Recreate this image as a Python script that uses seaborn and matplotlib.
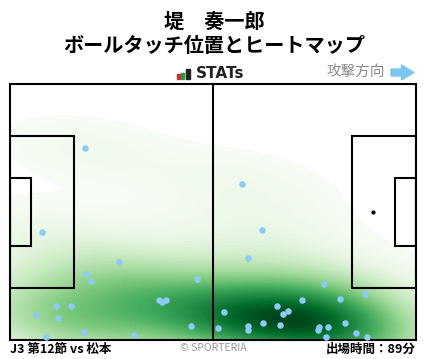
import numpy as np
import pandas as pd
import seaborn as sns
import matplotlib.pyplot as plt
from matplotlib.patches import Rectangle, FancyArrow

# ball touch positions (metres, x from own goal line, y from top touchline)
touch_x = [19.5, 8.4, 28.3, 19.7, 21.0, 48.4, 38.6, 39.4, 40.3, 12.0,
           15.9, 6.8, 12.5, 46.8, 19.2, 9.4, 32.1,
           60.1, 65.2, 61.6, 81.3, 91.9, 75.6, 85.4, 69.1, 55.4,
           72.0, 70.7, 65.5, 69.9, 86.7, 61.5, 61.6, 53.9, 82.3,
           80.0, 79.7, 89.6, 92.4, 81.8]
touch_y = [17.1, 39.4, 47.4, 50.5, 52.4, 51.9, 57.5, 58.0, 57.5, 59.0,
           59.0, 61.4, 62.2, 64.4, 65.9, 67.3, 66.7,
           26.6, 38.9, 46.3, 53.1, 55.9, 57.5, 57.2, 59.0, 60.6,
           60.3, 61.2, 63.6, 64.1, 63.6, 64.4, 65.4, 64.9, 64.6,
           64.6, 65.4, 66.2, 67.3, 67.3]

player = "堤　奏一郎"
subtitle = "ボールタッチ位置とヒートマップ"
match_info = "J3 第12節 vs 松本"
play_time = "出場時間：89分"

PITCH_L, PITCH_W = 105, 68

plt.rcParams['font.family'] = ['Noto Sans CJK JP', 'DejaVu Sans']

fig = plt.figure(figsize=(4.28, 3.59), dpi=100)
ax = fig.add_axes([10/428, 19/359, 406/428, 256/359])

df = pd.DataFrame({"x": touch_x, "y": touch_y})

sns.kdeplot(data=df, x="x", y="y", fill=True, cmap="Greens", levels=100,
            thresh=0.012, bw_adjust=1.15, clip=((0, PITCH_L), (0, PITCH_W)), ax=ax)

sns.scatterplot(data=df, x="x", y="y", color="#8ccbf5", s=22, linewidth=0, ax=ax, zorder=5)

lw = 1.5
# halfway line
ax.plot([PITCH_L/2, PITCH_L/2], [0, PITCH_W], color="black", lw=lw, zorder=4)
# penalty and goal areas
for x0, sgn in [(0, 1), (PITCH_L, -1)]:
    pw = 16.5 * sgn
    ax.add_patch(Rectangle((x0, PITCH_W/2 - 20.16), pw, 40.32, fill=False, ec="black", lw=lw, zorder=4))
    gw = 5.5 * sgn
    ax.add_patch(Rectangle((x0, PITCH_W/2 - 9.16), gw, 18.32, fill=False, ec="black", lw=lw, zorder=4))
ax.scatter([PITCH_L - 11], [PITCH_W/2], color="black", s=4, zorder=4)

ax.set_xlim(0, PITCH_L)
ax.set_ylim(PITCH_W, 0)
ax.set_xticks([])
ax.set_yticks([])
ax.set_xlabel("")
ax.set_ylabel("")
for s in ax.spines.values():
    s.set_color("black")
    s.set_linewidth(lw)

# header
fig.text(0.5, 1 - 21/359, player, ha="center", va="center", fontsize=14.5, fontweight="bold")
fig.text(0.5, 1 - 46/359, subtitle, ha="center", va="center", fontsize=14.5, fontweight="bold")

# STATs logo
px = fig.dpi_scale_trans
for bx, bw, bh, c in [(177, 3, 5, "#e0262b"), (181, 3, 6, "#1e9e3a"), (185.5, 4, 10, "#222222")]:
    fig.patches.append(Rectangle((bx/100, (359-79)/100), bw/100, bh/100, color=c, transform=px))
fig.text(196/428, 1 - 73.5/359, "STATs", ha="left", va="center", fontsize=11,
         fontweight="bold", family="DejaVu Sans", color="#222222")

fig.text(385/428, 1 - 72/359, "攻撃方向", ha="right", va="center", fontsize=10.5, color="#8a8a8a")
fig.patches.append(FancyArrow(391/100, (359-72.5)/100, 10.5/100, 0, width=7/100,
                              head_width=15/100, head_length=12.5/100,
                              length_includes_head=False, color="#7ec8f0", transform=px))

# footer
fig.text(10/428, 1 - 349/359, match_info, ha="left", va="center", fontsize=9, fontweight="bold")
fig.text(213/428, 1 - 348/359, "© SPORTERIA", ha="center", va="center", fontsize=7.5, color="#9a9a9a")
fig.text(416/428, 1 - 349/359, play_time, ha="right", va="center", fontsize=9, fontweight="bold")

fig.savefig("out.png", dpi=100)
